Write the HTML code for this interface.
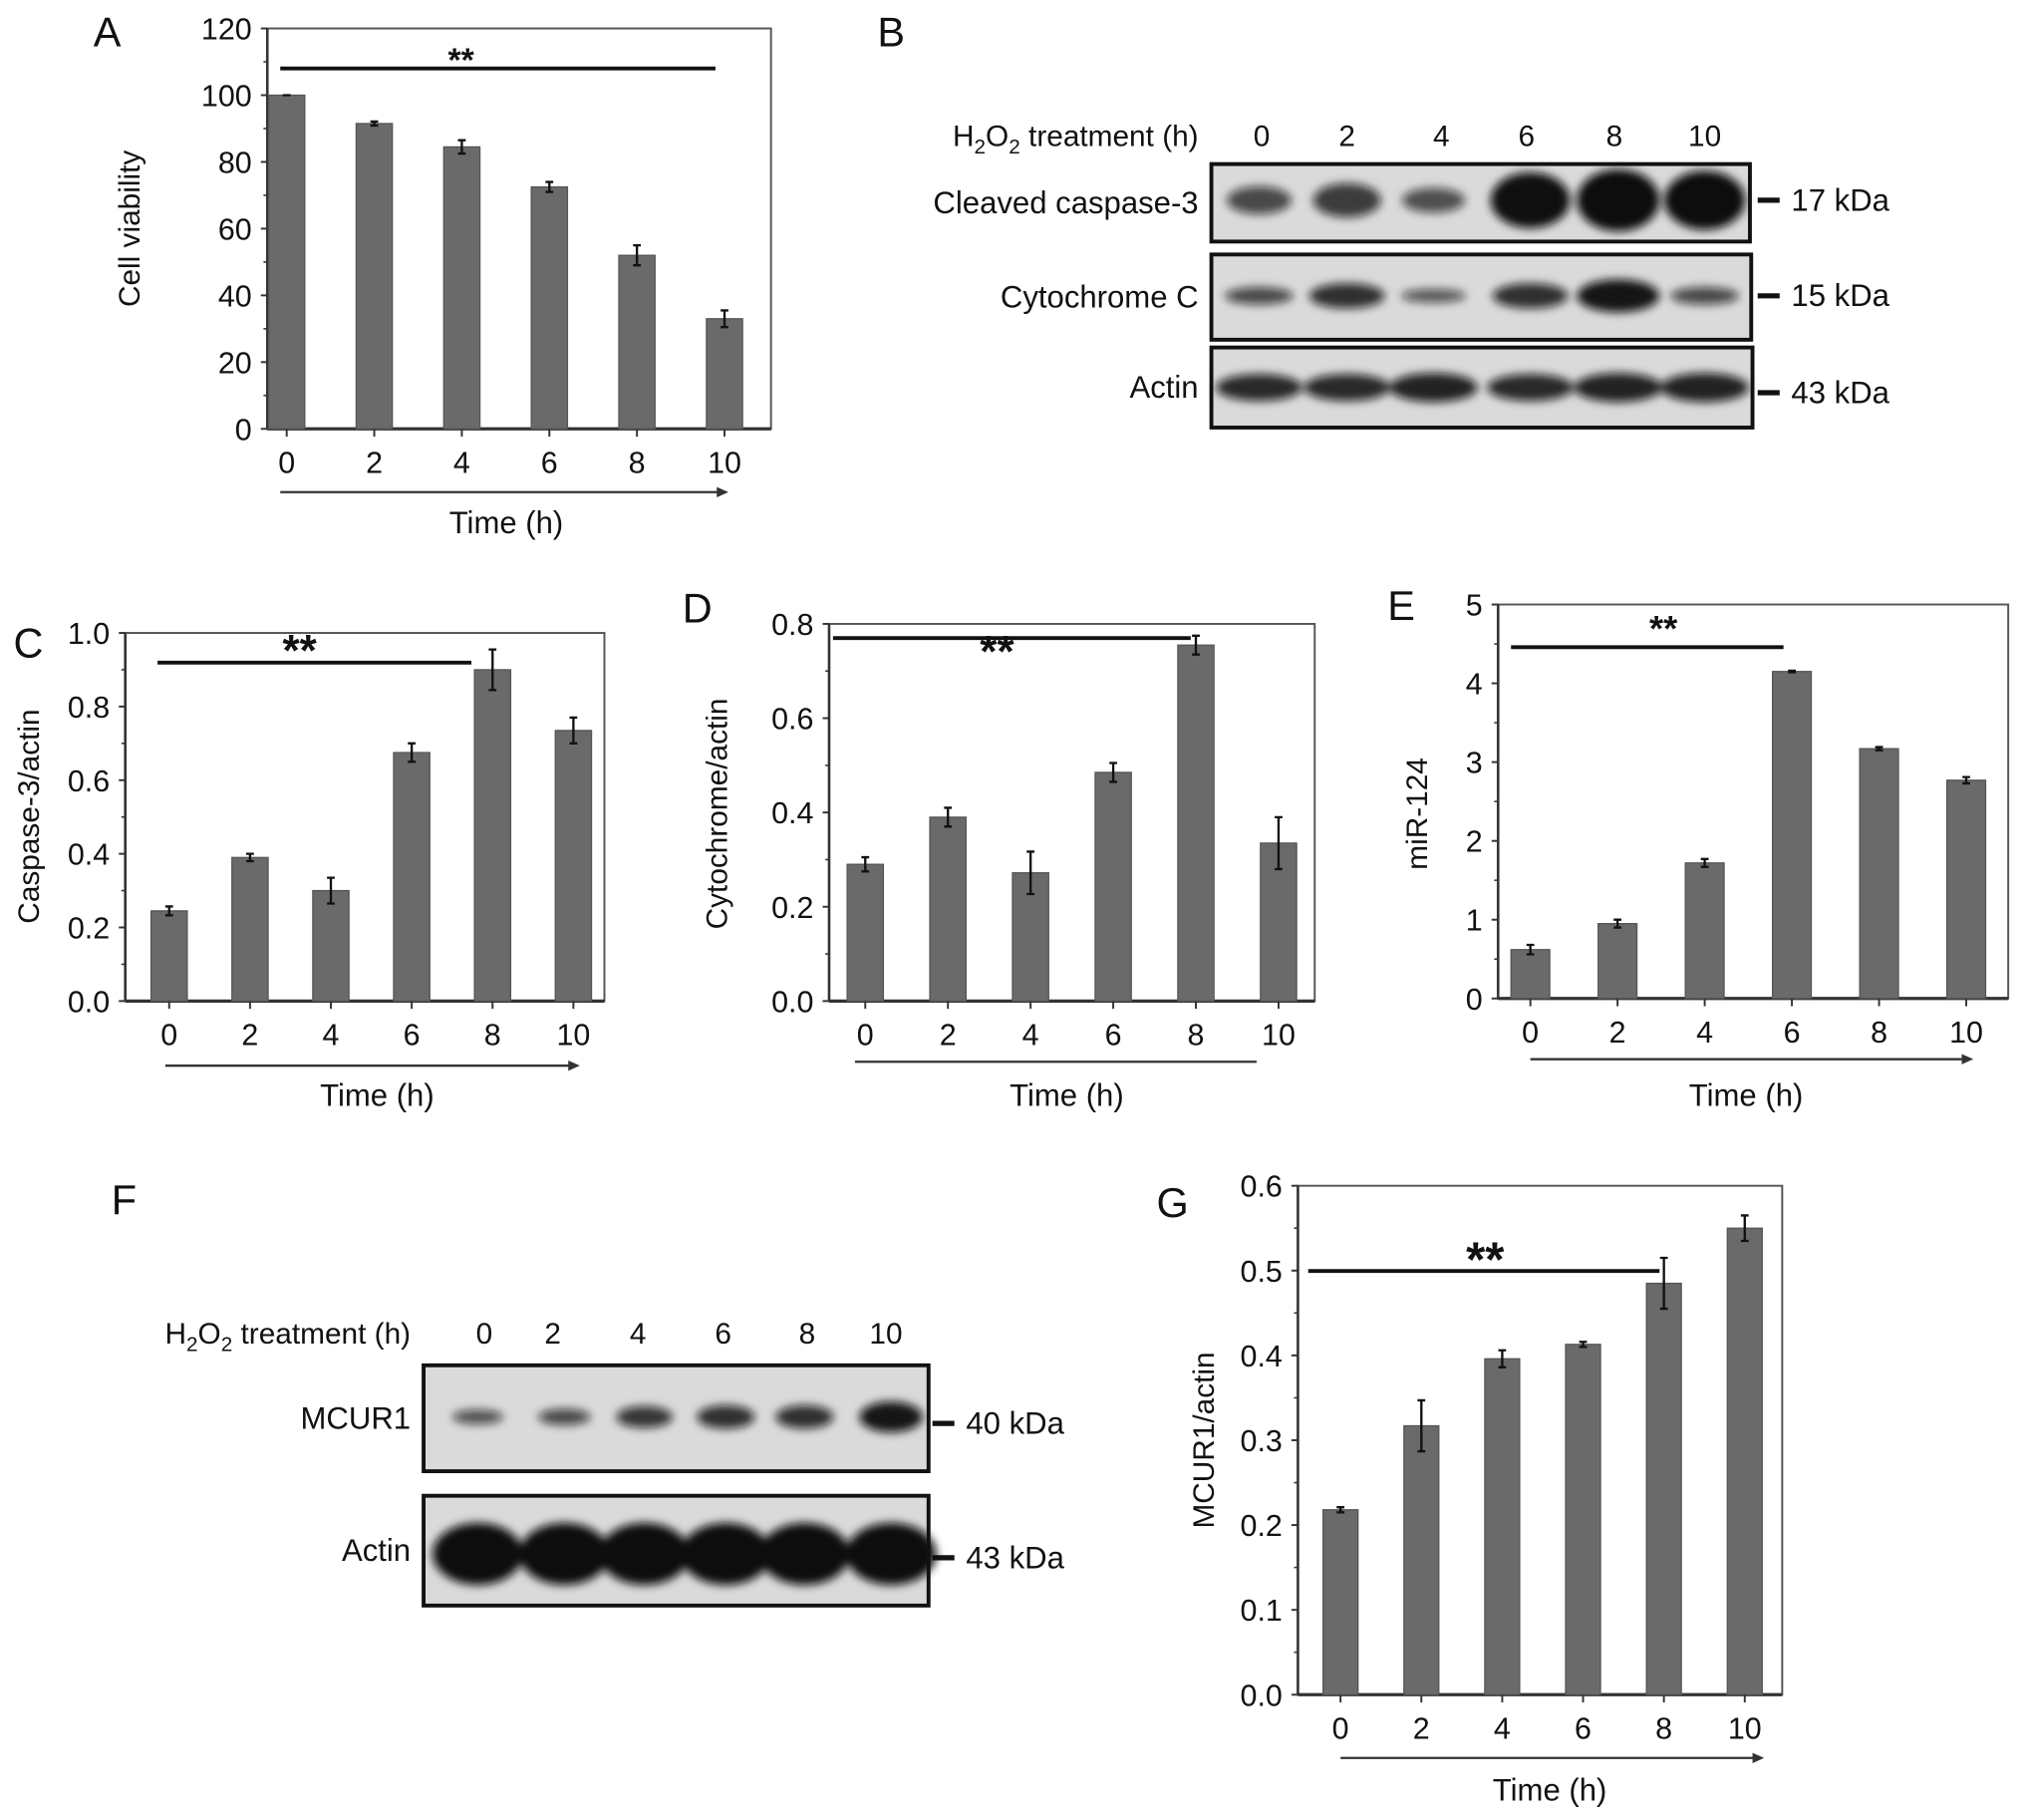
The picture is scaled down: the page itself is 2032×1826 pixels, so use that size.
<!DOCTYPE html>
<html><head><meta charset="utf-8">
<style>
html,body{margin:0;padding:0;background:#fff;}
svg{display:block;font-family:"Liberation Sans",Arial,sans-serif;}
</style></head>
<body>
<svg id="fig" width="2032" height="1826" viewBox="0 0 1568 1409" xmlns="http://www.w3.org/2000/svg">
<defs>
<filter id="blur" x="-50%" y="-100%" width="200%" height="300%"><feGaussianBlur stdDeviation="3.5"/></filter>
</defs>
</svg>
<script>
// ---- shared categories ----
const timeCats = ["0","2","4","6","8","10"];
// ---- Panel A ----
const aValues = [100, 91.5, 84.5, 72.5, 52, 33];
const aErrors = [0, 0.6, 2, 1.5, 3, 2.5];
const aTicks = [0, 20, 40, 60, 80, 100, 120];
// ---- Panel C ----
const cValues = [0.245, 0.39, 0.30, 0.675, 0.90, 0.735];
const cErrors = [0.012, 0.01, 0.035, 0.025, 0.055, 0.035];
const cTicks = ["0.0","0.2","0.4","0.6","0.8","1.0"];
// ---- Panel D ----
const dValues = [0.29, 0.39, 0.272, 0.485, 0.755, 0.335];
const dErrors = [0.015, 0.02, 0.045, 0.02, 0.02, 0.055];
const dTicks = ["0.0","0.2","0.4","0.6","0.8"];
// ---- Panel E ----
const eValues = [0.62, 0.95, 1.72, 4.15, 3.17, 2.77];
const eErrors = [0.06, 0.05, 0.05, 0.01, 0.02, 0.04];
const eTicks = ["0","1","2","3","4","5"];
// ---- Panel G ----
const gValues = [0.218, 0.317, 0.396, 0.413, 0.485, 0.55];
const gErrors = [0.003, 0.03, 0.01, 0.003, 0.03, 0.015];
const gTicks = ["0.0","0.1","0.2","0.3","0.4","0.5","0.6"];
// ---- Blot band intensities (relative band size) ----
const casp3Bands = [0.45, 0.55, 0.40, 0.9, 1.0, 0.95];
const cytoBands = [0.45, 0.65, 0.35, 0.65, 0.85, 0.45];
const actinBBands = [0.7, 0.7, 0.75, 0.7, 0.75, 0.75];
const mcurBands = [0.4, 0.45, 0.6, 0.65, 0.65, 0.85];
const actinFBands = [1, 1, 1, 1, 1, 1];

const NS = "http://www.w3.org/2000/svg";
const svg = document.getElementById("fig");
function mk(tag, attrs, parent) {
  const el = document.createElementNS(NS, tag);
  for (const k in attrs) el.setAttribute(k, attrs[k]);
  (parent || svg).appendChild(el);
  return el;
}
function txt(s, x, y, size, anchor, parent, extra) {
  const t = mk("text", Object.assign({x: x, y: y, "font-size": size, "text-anchor": anchor || "middle", fill: "#111"}, extra || {}), parent);
  t.textContent = s;
  return t;
}

function barChart(o, values, errors, ticks, tickVals) {
  const g = mk("g", {});
  
  
  const yScale = v => o.y0 - (v - o.vmin) / (o.vmax - o.vmin) * (o.y0 - o.y1);
  const xScale = i => o.xc0 + i * o.step;
  const frame = mk("rect", {x: o.x0, y: o.y1, width: o.x1 - o.x0, height: o.y0 - o.y1, fill: "none", stroke: "#555", "stroke-width": 1.5}, g);
  
  
  mk("line", {x1: o.x0, y1: o.y0, x2: o.x1, y2: o.y0, stroke: "#333", "stroke-width": 2.5}, g);
  mk("line", {x1: o.x0, y1: o.y0, x2: o.x0, y2: o.y1, stroke: "#333", "stroke-width": 2}, g);
  for (let i = 0; i < ticks.length; i++) {
    const y = yScale(tickVals[i]);
    mk("line", {x1: o.x0 - 5, y1: y, x2: o.x0, y2: y, stroke: "#333", "stroke-width": 1.5}, g);
    const t = txt(ticks[i], o.x0 - 12, y + 8.5, 23.5, "end", g);
    
    
    if (i < ticks.length - 1) {
      const ym = yScale((tickVals[i] + tickVals[i + 1]) / 2);
      mk("line", {x1: o.x0 - 3, y1: ym, x2: o.x0, y2: ym, stroke: "#333", "stroke-width": 1.2}, g);
    }
  }
  for (let i = 0; i < values.length; i++) {
    const cx = xScale(i), top = yScale(values[i]);
    const bar = mk("rect", {x: cx - o.bw / 2, y: top, width: o.bw, height: o.y0 - top, fill: "#6a6a6a", stroke: "#555", "stroke-width": 1}, g);
    
    
    const e1 = yScale(values[i] + errors[i]), e2 = yScale(values[i] - errors[i]);
    const eb = mk("path", {d: `M${cx},${e1}V${e2}M${cx-3},${e1}H${cx+3}M${cx-3},${e2}H${cx+3}`, stroke: "#111", "stroke-width": 1.8, fill: "none"}, g);
    
    
    mk("line", {x1: cx, y1: o.y0, x2: cx, y2: o.y0 + 6, stroke: "#333", "stroke-width": 1.5}, g);
    const xl = txt(timeCats[i], cx, o.y0 + 34, 23.5, "middle", g);
    
    
  }
  const sig = mk("line", {x1: o.sig[0], y1: o.sig[2], x2: o.sig[1], y2: o.sig[2], stroke: "#111", "stroke-width": 3}, g);
  
  
  const st = txt("**", o.sig[3], o.sig[4], o.sigSize, "middle", g, {"font-weight": "bold"});
  
  
  const ar = mk("line", {x1: o.arr[0], y1: o.arr[2], x2: o.arr[1], y2: o.arr[2], stroke: "#333", "stroke-width": 1.8}, g);
  
  
  if (o.arrowHead) mk("path", {d: `M${o.arr[1]+4},${o.arr[2]}l-9,-4v8z`, fill: "#333"}, g);
  const xt = txt("Time (h)", o.xt[0], o.xt[1], 24, "middle", g);
  
  
  const yt = txt(o.ylabel, 0, 0, 23, "middle", g, {transform: `translate(${o.yl[0]},${o.yl[1]}) rotate(-90)`});
  
  
  const pl = txt(o.letter, o.lp[0], o.lp[1], 32, "middle", g);
  
  
}

barChart({name: "panel-a-cell-viability", x0: 207, x1: 597, y0: 332, y1: 22, vmin: 0, vmax: 120, xc0: 222, step: 67.8, bw: 28,
  sig: [217, 554, 53, 357, 55], sigSize: 26, arr: [217, 560, 381], arrowHead: true, xt: [392, 413], yl: [108, 177], ylabel: "Cell viability", letter: "A", lp: [83, 36]},
  aValues, aErrors, aTicks.map(String), aTicks);
barChart({name: "panel-c-caspase3", x0: 97, x1: 468, y0: 775, y1: 490, vmin: 0, vmax: 1.0, xc0: 131, step: 62.6, bw: 28,
  sig: [122, 365, 513, 232, 515], sigSize: 34, arr: [128, 445, 825], arrowHead: true, xt: [292, 856], yl: [30, 632], ylabel: "Caspase-3/actin", letter: "C", lp: [22, 509]},
  cValues, cErrors, cTicks, cTicks.map(Number));
barChart({name: "panel-d-cytochrome", x0: 642, x1: 1018, y0: 775, y1: 483, vmin: 0, vmax: 0.8, xc0: 670, step: 64, bw: 28,
  sig: [645, 922, 494, 772, 516], sigSize: 34, arr: [662, 973, 822], arrowHead: false, xt: [826, 856], yl: [563, 630], ylabel: "Cytochrome/actin", letter: "D", lp: [540, 482]},
  dValues, dErrors, dTicks, dTicks.map(Number));
barChart({name: "panel-e-mir124", x0: 1160, x1: 1555, y0: 773, y1: 468, vmin: 0, vmax: 5, xc0: 1185, step: 67.5, bw: 30,
  sig: [1170, 1381, 501, 1288, 496], sigSize: 28, arr: [1185, 1524, 820], arrowHead: true, xt: [1352, 856], yl: [1105, 630], ylabel: "miR-124", letter: "E", lp: [1085, 480]},
  eValues, eErrors, eTicks, eTicks.map(Number));
barChart({name: "panel-g-mcur1", x0: 1005, x1: 1380, y0: 1312, y1: 918, vmin: 0, vmax: 0.6, xc0: 1038, step: 62.6, bw: 27,
  sig: [1013, 1285, 984, 1150, 988], sigSize: 38, arr: [1038, 1362, 1361], arrowHead: true, xt: [1200, 1394], yl: [940, 1115], ylabel: "MCUR1/actin", letter: "G", lp: [908, 942]},
  gValues, gErrors, gTicks, gTicks.map(Number));

function header(x, y, parent) {
  const t = mk("text", {x: x, y: y, "font-size": 23, "text-anchor": "end", fill: "#111"}, parent);
  
  
  t.innerHTML = 'H<tspan font-size="16" dy="6">2</tspan><tspan dy="-6">O</tspan><tspan font-size="16" dy="6">2</tspan><tspan dy="-6"> treatment (h)</tspan>';
}
function blot(parent, name, box, lanes, bands, bw, bh, by, label, lx, marker, mkY, mkX) {
  const g = mk("g", {}, parent);
  
  
  mk("rect", {x: box[0], y: box[1], width: box[2] - box[0], height: box[3] - box[1], fill: "#dadada"}, g);
  const bg = mk("g", {filter: "url(#blur)"}, g);
  for (let i = 0; i < bands.length; i++) {
    const e = mk("ellipse", {cx: lanes[i], cy: by, rx: bw * (0.6 + 0.4 * bands[i]), ry: bh * bands[i], fill: "#0a0a0a", opacity: Math.min(1, 0.45 + 0.6 * bands[i])}, bg);
    
    
  }
  mk("rect", {x: box[0], y: box[1], width: box[2] - box[0], height: box[3] - box[1], fill: "none", stroke: "#111", "stroke-width": 3}, g);
  const lt = txt(label, lx, (box[1] + box[3]) / 2 + 8, 24, "end", g);
  
  
  mk("line", {x1: mkX, y1: mkY, x2: mkX + 17, y2: mkY, stroke: "#111", "stroke-width": 4}, g);
  const mt = txt(marker, mkX + 26, mkY + 8, 24, "start", g);
  
  
}
const bG = mk("g", {});


txt("B", 690, 36, 32, "middle", bG);
header(928, 113, bG);
const bLanes = [977, 1043, 1116, 1182, 1250, 1320];
for (let i = 0; i < 6; i++) { const t = txt(timeCats[i], bLanes[i], 113, 23, "middle", bG);   }
const bBand = [975, 1043, 1110, 1185, 1253, 1320];
blot(bG, "cleaved-caspase3-blot", [938, 127, 1355, 187], bBand, casp3Bands, 32, 24, 155, "Cleaved caspase-3", 928, "17 kDa", 155, 1361);
blot(bG, "cytochrome-c-blot", [938, 197, 1356, 263], bBand, cytoBands, 34, 15, 229, "Cytochrome C", 928, "15 kDa", 229, 1361);
blot(bG, "actin-blot-b", [938, 269, 1357, 331], bBand, actinBBands, 38, 15, 300, "Actin", 928, "43 kDa", 304, 1361);

const fG = mk("g", {});


txt("F", 96, 940, 32, "middle", fG);
header(318, 1040, fG);
const fLanes = [375, 428, 494, 560, 625, 686];
for (let i = 0; i < 6; i++) { const t = txt(timeCats[i], fLanes[i], 1040, 23, "middle", fG);   }
const fBand = [370, 437, 499, 562, 623, 690];
blot(fG, "mcur1-blot", [328, 1057, 719, 1139], fBand, mcurBands, 26, 14, 1097, "MCUR1", 318, "40 kDa", 1102, 722);
blot(fG, "actin-blot-f", [328, 1158, 719, 1243], fBand, actinFBands, 35, 24, 1203, "Actin", 318, "43 kDa", 1206, 722);
</script>
</body></html>
